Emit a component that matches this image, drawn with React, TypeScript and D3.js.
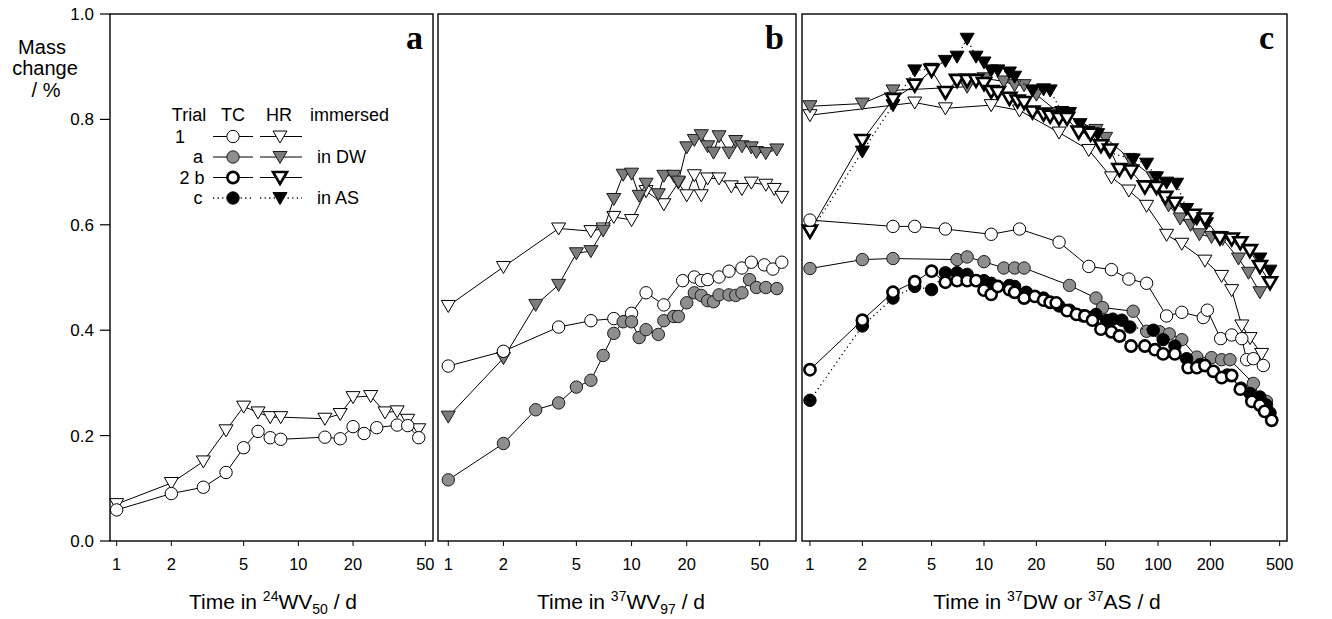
import React from "react";
import * as d3 from "d3";

// ---------- Panel a: 24WV50 (trial 1 only) ----------
const aTC1Time = [1, 2, 3, 4, 5, 6, 7, 8, 14, 17, 20, 23, 27, 35, 40, 46];
const aTC1Mass = [0.059, 0.09, 0.102, 0.13, 0.177, 0.208, 0.196, 0.193, 0.197, 0.194, 0.217, 0.204, 0.215, 0.22, 0.219, 0.196];
const aHR1Time = [1, 2, 3, 4, 5, 6, 7, 8, 14, 17, 20, 25, 30, 35, 40, 46];
const aHR1Mass = [0.07, 0.11, 0.151, 0.21, 0.255, 0.244, 0.235, 0.235, 0.232, 0.241, 0.273, 0.275, 0.244, 0.246, 0.23, 0.212];

// ---------- Panel b: 37WV97 (trial 1 and a) ----------
const bTC1Time = [1, 2, 4, 6, 8, 10, 12, 15, 19, 22, 24, 26, 30, 34, 40, 45, 53, 59, 66];
const bTC1Mass = [0.332, 0.36, 0.406, 0.418, 0.422, 0.432, 0.471, 0.448, 0.494, 0.501, 0.494, 0.496, 0.501, 0.512, 0.518, 0.529, 0.524, 0.516, 0.529];
const bTCaTime = [1, 2, 3, 4, 5, 6, 7, 8, 9, 10, 11, 12, 14, 15, 17, 18, 20, 22, 24, 26, 28, 30, 34, 37, 40, 44, 48, 54, 62];
const bTCaMass = [0.116, 0.185, 0.249, 0.262, 0.292, 0.305, 0.352, 0.394, 0.416, 0.416, 0.386, 0.401, 0.392, 0.418, 0.426, 0.426, 0.452, 0.471, 0.466, 0.456, 0.454, 0.467, 0.467, 0.466, 0.471, 0.496, 0.481, 0.481, 0.479];
const bHR1Time = [1, 2, 4, 6, 7, 8, 10, 12, 15, 18, 20, 22, 24, 26, 30, 35, 40, 45, 54, 60, 66];
const bHR1Mass = [0.446, 0.52, 0.593, 0.588, 0.593, 0.615, 0.609, 0.664, 0.639, 0.68, 0.656, 0.694, 0.656, 0.688, 0.688, 0.673, 0.668, 0.68, 0.676, 0.668, 0.653];
const bHRaTime = [1, 2, 3, 4, 5, 6, 7, 8, 9, 10, 11, 12, 14, 15, 17, 18, 20, 22, 24, 26, 28, 30, 34, 37, 40, 45, 48, 54, 62];
const bHRaMass = [0.236, 0.347, 0.448, 0.486, 0.546, 0.55, 0.589, 0.649, 0.695, 0.697, 0.655, 0.678, 0.658, 0.693, 0.693, 0.682, 0.747, 0.761, 0.77, 0.749, 0.737, 0.768, 0.737, 0.759, 0.749, 0.747, 0.738, 0.736, 0.743];

// ---------- Panel c: 37DW or 37AS (trials 1, a, b, c) ----------
const cTC1Time = [1, 3, 4, 6, 11, 16, 27, 40, 54, 68, 86, 112, 137, 182, 192, 229, 265, 303, 323, 353, 403];
const cTC1Mass = [0.609, 0.597, 0.597, 0.592, 0.582, 0.592, 0.567, 0.521, 0.515, 0.497, 0.489, 0.427, 0.434, 0.424, 0.438, 0.384, 0.391, 0.384, 0.344, 0.346, 0.333];
const cTCaTime = [1, 2, 3, 7, 8, 10, 13, 15, 17, 31, 44, 48, 72, 86, 102, 116, 137, 167, 203, 232, 259, 353, 385, 420];
const cTCaMass = [0.517, 0.534, 0.536, 0.534, 0.539, 0.53, 0.518, 0.518, 0.518, 0.485, 0.461, 0.443, 0.436, 0.398, 0.397, 0.393, 0.382, 0.349, 0.348, 0.344, 0.344, 0.299, 0.273, 0.265];
const cTCbTime = [1, 2, 3, 4, 5, 6, 7, 8, 9, 10, 11, 12, 14, 15, 17, 19.6, 22, 24, 26, 30, 34, 38, 42, 47, 54, 60, 70, 84, 96, 107, 125, 149, 167, 186, 208, 232, 265, 297, 346, 385, 410, 450];
const cTCbMass = [0.325, 0.419, 0.472, 0.492, 0.512, 0.491, 0.494, 0.494, 0.494, 0.476, 0.468, 0.483, 0.477, 0.472, 0.461, 0.464, 0.457, 0.453, 0.452, 0.437, 0.43, 0.427, 0.419, 0.402, 0.397, 0.389, 0.37, 0.37, 0.363, 0.355, 0.355, 0.329, 0.329, 0.333, 0.322, 0.31, 0.314, 0.288, 0.265, 0.258, 0.246, 0.229];
const cTCcTime = [1, 2, 3, 4, 5, 6, 7, 8, 10, 11, 14, 15, 17.5, 22, 27, 31, 37, 44, 50.6, 55, 62, 69, 94, 107, 125, 146, 175, 250, 300, 338, 385, 420, 440];
const cTCcMass = [0.267, 0.408, 0.461, 0.483, 0.477, 0.509, 0.509, 0.506, 0.494, 0.489, 0.485, 0.483, 0.472, 0.461, 0.446, 0.438, 0.427, 0.43, 0.419, 0.421, 0.419, 0.406, 0.4, 0.382, 0.37, 0.346, 0.335, 0.315, 0.29, 0.28, 0.273, 0.258, 0.243];
const cHR1Time = [1, 4, 6, 11, 16, 27, 40, 54, 68, 86, 112, 137, 186, 232, 265, 303, 338, 394];
const cHR1Mass = [0.808, 0.832, 0.821, 0.827, 0.817, 0.775, 0.742, 0.69, 0.665, 0.636, 0.581, 0.564, 0.532, 0.503, 0.476, 0.409, 0.385, 0.355];
const cHRaTime = [1, 2, 3, 8, 10, 13, 15, 17, 20, 27, 30, 44, 50, 69, 94, 115, 134, 154, 173, 203, 235, 290, 331, 385];
const cHRaMass = [0.825, 0.83, 0.855, 0.862, 0.878, 0.872, 0.865, 0.865, 0.847, 0.812, 0.808, 0.78, 0.765, 0.725, 0.69, 0.637, 0.612, 0.6, 0.582, 0.577, 0.573, 0.536, 0.509, 0.472];
const cHRbTime = [1, 2, 3, 4, 5, 6, 7, 8, 9, 10, 11, 12, 14, 15.6, 17, 19, 22, 24, 27, 30, 35, 41, 47, 53, 60, 70, 84, 98, 110, 125, 160, 186, 227, 265, 297, 337, 385, 440];
const cHRbMass = [0.588, 0.76, 0.838, 0.865, 0.893, 0.851, 0.874, 0.874, 0.874, 0.868, 0.853, 0.851, 0.84, 0.835, 0.832, 0.814, 0.81, 0.806, 0.802, 0.802, 0.776, 0.772, 0.75, 0.742, 0.705, 0.702, 0.672, 0.671, 0.652, 0.641, 0.618, 0.611, 0.575, 0.573, 0.566, 0.551, 0.521, 0.49];
const cHRcTime = [1, 2, 3, 4, 5, 6, 7, 8, 9, 10, 11, 12, 14, 15, 19, 22, 24, 28, 31, 35.6, 39.6, 45, 52.8, 72, 86, 98, 112, 128, 146, 167, 190, 227, 338, 385, 440];
const cHRcMass = [0.585, 0.739, 0.827, 0.893, 0.896, 0.911, 0.919, 0.953, 0.919, 0.908, 0.893, 0.893, 0.889, 0.881, 0.855, 0.857, 0.855, 0.814, 0.812, 0.791, 0.776, 0.772, 0.737, 0.724, 0.716, 0.69, 0.68, 0.678, 0.63, 0.611, 0.603, 0.577, 0.551, 0.536, 0.513];

// ---------- axes / labels ----------
const yTicks = [0, 0.2, 0.4, 0.6, 0.8, 1.0];
const xTicksAB = [1, 2, 5, 10, 20, 50];
const xTicksC = [1, 2, 5, 10, 20, 50, 100, 200, 500];
const panelLetters = ["a", "b", "c"];

const legendHeader = ["Trial", "TC", "HR", "immersed"];
const legendTrials = ["1", "a", "2 b", "c"];
const legendMedium = ["", "in DW", "", "in AS"];

type Style = "1" | "a" | "b" | "c";
type Series = { t: number[]; v: number[]; kind: "circle" | "tri"; style: Style };

const FONT = "'Liberation Sans', Arial, Helvetica, sans-serif";
const yScale = d3.scaleLinear().domain([0, 1]).range([541, 14]);

const styleOf = (s: Style, kind: "circle" | "tri") => {
  switch (s) {
    case "1": return { fill: "#fff", stroke: "#000", sw: 1, dash: undefined as string | undefined };
    case "a": return { fill: kind === "circle" ? "#8e8e8e" : "#7c7c7c", stroke: "#1a1a1a", sw: 1, dash: undefined };
    case "b": return { fill: "#fff", stroke: "#000", sw: 2.6, dash: undefined };
    default: return { fill: "#000", stroke: "#000", sw: 1, dash: "1.2,3.4" };
  }
};

const TRI = "M-7,-5.5L7,-5.5L0,6.5Z";

function Marker({ x, y, kind, style }: { x: number; y: number; kind: "circle" | "tri"; style: Style }) {
  const st = styleOf(style, kind);
  if (kind === "circle") {
    const r = style === "b" ? 5.6 : 6.2;
    return <circle cx={x} cy={y} r={r} fill={st.fill} stroke={st.stroke} strokeWidth={st.sw} />;
  }
  return <path d={TRI} transform={`translate(${x},${y})`} fill={st.fill} stroke={st.stroke} strokeWidth={st.sw} strokeLinejoin="miter" />;
}

type Panel = {
  x0: number; x1: number; domain: [number, number]; ticks: number[]; letter: string;
  letterX: number; series: Series[]; titleX: number; title: React.ReactNode;
};

const SUP = 14;

const panels: Panel[] = [
  {
    x0: 110, x1: 433, domain: [0.919, 55.1], ticks: xTicksAB, letter: panelLetters[0], letterX: 423,
    series: [
      { t: aHR1Time, v: aHR1Mass, kind: "tri", style: "1" },
      { t: aTC1Time, v: aTC1Mass, kind: "circle", style: "1" },
    ],
    titleX: 273,
    title: (<>Time in <tspan dy={-8} fontSize={SUP}>24</tspan><tspan dy={8}>WV</tspan><tspan dy={5} fontSize={SUP}>50</tspan><tspan dy={-5}> / d</tspan></>),
  },
  {
    x0: 438, x1: 796, domain: [0.879, 78.9], ticks: xTicksAB, letter: panelLetters[1], letterX: 784,
    series: [
      { t: bHR1Time, v: bHR1Mass, kind: "tri", style: "1" },
      { t: bHRaTime, v: bHRaMass, kind: "tri", style: "a" },
      { t: bTC1Time, v: bTC1Mass, kind: "circle", style: "1" },
      { t: bTCaTime, v: bTCaMass, kind: "circle", style: "a" },
    ],
    titleX: 621,
    title: (<>Time in <tspan dy={-8} fontSize={SUP}>37</tspan><tspan dy={8}>WV</tspan><tspan dy={5} fontSize={SUP}>97</tspan><tspan dy={-5}> / d</tspan></>),
  },
  {
    x0: 802, x1: 1287, domain: [0.9, 551], ticks: xTicksC, letter: panelLetters[2], letterX: 1274,
    series: [
      { t: cHR1Time, v: cHR1Mass, kind: "tri", style: "1" },
      { t: cHRaTime, v: cHRaMass, kind: "tri", style: "a" },
      { t: cHRcTime, v: cHRcMass, kind: "tri", style: "c" },
      { t: cHRbTime, v: cHRbMass, kind: "tri", style: "b" },
      { t: cTC1Time, v: cTC1Mass, kind: "circle", style: "1" },
      { t: cTCaTime, v: cTCaMass, kind: "circle", style: "a" },
      { t: cTCcTime, v: cTCcMass, kind: "circle", style: "c" },
      { t: cTCbTime, v: cTCbMass, kind: "circle", style: "b" },
    ],
    titleX: 1047,
    title: (<>Time in <tspan dy={-8} fontSize={SUP}>37</tspan><tspan dy={8}>DW or </tspan><tspan dy={-8} fontSize={SUP}>37</tspan><tspan dy={8}>AS / d</tspan></>),
  },
];

function PanelView({ p }: { p: Panel }) {
  const x = d3.scaleLog().domain(p.domain).range([p.x0, p.x1]);
  const line = d3.line<[number, number]>().x((d) => x(d[0])).y((d) => yScale(d[1]));
  const top = yScale(1), bottom = yScale(0);
  return (
    <g>
      {p.series.map((s, i) => {
        const st = styleOf(s.style, s.kind);
        const pts = s.t.map((t, j) => [t, s.v[j]] as [number, number]);
        return (
          <g key={i}>
            <path d={line(pts) || ""} fill="none" stroke="#000" strokeWidth={s.style === "c" ? 1.3 : 1} strokeDasharray={st.dash} />
            {pts.map((d, j) => <Marker key={j} x={x(d[0])} y={yScale(d[1])} kind={s.kind} style={s.style} />)}
          </g>
        );
      })}
      <rect x={p.x0} y={top} width={p.x1 - p.x0} height={bottom - top} fill="none" stroke="#000" strokeWidth={1.4} />
      {p.ticks.map((t) => (
        <g key={t}>
          <line x1={x(t)} x2={x(t)} y1={bottom} y2={bottom + 5} stroke="#000" strokeWidth={1} />
          <text x={x(t)} y={570} textAnchor="middle" fontSize={16.5} fontFamily={FONT}>{t}</text>
        </g>
      ))}
      <text x={p.letterX} y={49} textAnchor="end" fontSize={34} fontWeight="bold" fontFamily="'Liberation Serif', 'Times New Roman', serif">{p.letter}</text>
      <text x={p.titleX} y={609} textAnchor="middle" fontSize={21} fontFamily={FONT}>{p.title}</text>
    </g>
  );
}

function Legend() {
  const rowsY = [136.5, 157, 177.5, 198];
  const styles: Style[] = ["1", "a", "b", "c"];
  const rowLabelX = [180, 198, 192, 198];
  return (
    <g fontFamily={FONT} fontSize={18}>
      <text x={189} y={121} textAnchor="middle">{legendHeader[0]}</text>
      <text x={233} y={121} textAnchor="middle">{legendHeader[1]}</text>
      <text x={279} y={121} textAnchor="middle">{legendHeader[2]}</text>
      <text x={310} y={121}>{legendHeader[3]}</text>
      {styles.map((s, i) => {
        const y = rowsY[i];
        const st = styleOf(s, "circle");
        return (
          <g key={s}>
            <text x={rowLabelX[i]} y={y + 6} textAnchor="middle">{legendTrials[i]}</text>
            <line x1={213} x2={253} y1={y} y2={y} stroke="#000" strokeWidth={s === "c" ? 1.3 : 1} strokeDasharray={st.dash} />
            <line x1={260} x2={302} y1={y} y2={y} stroke="#000" strokeWidth={s === "c" ? 1.3 : 1} strokeDasharray={st.dash} />
            <Marker x={233} y={y} kind="circle" style={s} />
            <Marker x={280} y={y} kind="tri" style={s} />
            {legendMedium[i] && <text x={317} y={y + 6}>{legendMedium[i]}</text>}
          </g>
        );
      })}
    </g>
  );
}

export default function App() {
  return (
    <svg width={1332} height={619} style={{ position: "absolute", left: 0, top: 0, background: "#fff" }} xmlns="http://www.w3.org/2000/svg">
      <rect width={1332} height={619} fill="#fff" />
      {/* y axis on panel a */}
      {yTicks.map((v) => (
        <g key={v}>
          <line x1={100} x2={110} y1={yScale(v)} y2={yScale(v)} stroke="#000" strokeWidth={1.2} />
          <text x={94} y={yScale(v) + 6} textAnchor="end" fontSize={17} fontFamily={FONT}>{v.toFixed(1)}</text>
        </g>
      ))}
      <g fontFamily={FONT} fontSize={20} textAnchor="middle">
        <text x={42} y={54}>Mass</text>
        <text x={45} y={75}>change</text>
        <text x={46} y={97}>/ %</text>
      </g>
      {panels.map((p) => <PanelView key={p.letter} p={p} />)}
      <Legend />
    </svg>
  );
}
